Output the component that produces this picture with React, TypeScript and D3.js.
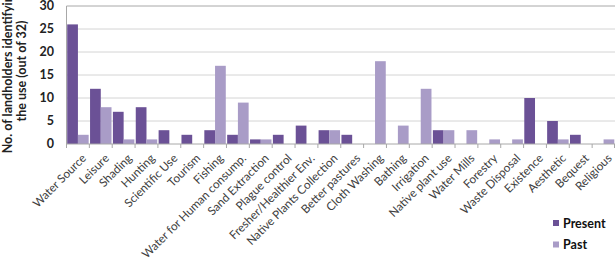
import React from "react";
import * as d3 from "d3";

const categories = [
  "Water Source", "Leisure", "Shading", "Hunting", "Scientific Use", "Tourism", "Fishing",
  "Water for Human consump.", "Sand Extraction", "Plague control", "Fresher/Healthier Env.",
  "Native Plants Collection", "Better pastures", "Cloth Washing", "Bathing", "Irrigation",
  "Native plant use", "Water Mills", "Forestry", "Waste Disposal", "Existence", "Aesthetic",
  "Bequest", "Religious",
];
const present = [26, 12, 7, 8, 3, 2, 3, 2, 1, 2, 4, 3, 2, 0, 0, 0, 3, 0, 0, 0, 10, 5, 2, 0];
const past = [2, 8, 1, 1, 0, 0, 17, 9, 1, 0, 0, 3, 0, 18, 4, 12, 3, 3, 1, 1, 0, 1, 0, 1];
const yTicks = [0, 5, 10, 15, 20, 25, 30];
const seriesNames = ["Present", "Past"];
const colors = ["#6b5196", "#a99cc7"];

const W = 616, H = 263;
const left = 66.5, right = 615, top = 6, bottom = 144;

export default function App() {
  const x = d3.scaleBand<string>().domain(categories).range([left, right]).paddingInner(0).paddingOuter(0);
  const inner = d3.scaleBand<string>().domain(seriesNames).range([0, x.bandwidth()]).paddingInner(0).paddingOuter(0.065);
  const y = d3.scaleLinear().domain([0, 30]).range([bottom, top]);
  const font = "Lato, 'Open Sans', sans-serif";
  const series = [present, past];
  return (
    <svg width={W} height={H} style={{ position: "absolute", left: 0, top: 0, background: "#fff" }} fontFamily={font}>
      {yTicks.map((t) => (
        <g key={t}>
          {t > 0 && (
            <line x1={left} x2={right} y1={y(t)} y2={y(t)} stroke={t === 30 ? "#a8a8a8" : "#d4d4d4"} strokeWidth={1} />
          )}
          <text x={54} y={y(t)} dy="0.35em" textAnchor="end" fontSize={12.5} fontWeight="bold" fill="#222">{t}</text>
        </g>
      ))}
      {series.map((vals, si) =>
        vals.map((v, i) =>
          v > 0 ? (
            <rect
              key={`${si}-${i}`}
              x={(x(categories[i]) as number) + (inner(seriesNames[si]) as number)}
              y={y(v)}
              width={inner.bandwidth()}
              height={bottom - y(v)}
              fill={colors[si]}
            />
          ) : null
        )
      )}
      <line x1={left} x2={right} y1={bottom} y2={bottom} stroke="#a8a8a8" />
      <line x1={left} x2={left} y1={top} y2={bottom} stroke="#a8a8a8" />
      {categories.map((c, i) => (
        <line key={"t" + i} x1={x(c) as number} x2={x(c) as number} y1={bottom} y2={bottom + 4} stroke="#a8a8a8" />
      ))}
      <line x1={right - 0.5} x2={right - 0.5} y1={bottom} y2={bottom + 4} stroke="#a8a8a8" />
      {categories.map((c, i) => {
        const cx = (x(c) as number) + x.bandwidth() / 2 + 4;
        const cy = bottom + 10;
        return (
          <text key={"l" + i} x={cx} y={cy} transform={`rotate(-45 ${cx} ${cy})`} textAnchor="end" dy="0.6em" fontSize={11.7} fill="#404040">
            {c}
          </text>
        );
      })}
      <g transform={`translate(12, ${(top + bottom) / 2 - 4}) rotate(-90)`}>
        <text x={0} y={0} textAnchor="middle" fontSize={12.5} fontWeight="bold" fill="#222">No. of landholders identifying</text>
        <text x={0} y={14} textAnchor="middle" fontSize={12.5} fontWeight="bold" fill="#222">the use (out of 32)</text>
      </g>
      {seriesNames.map((s, i) => (
        <g key={s} transform={`translate(553, ${220 + i * 21.5})`}>
          <rect x={0} y={0} width={6} height={6} fill={colors[i]} />
          <text x={10} y={3} dy="0.38em" fontSize={12.5} fontWeight="bold" fill="#111">{s}</text>
        </g>
      ))}
    </svg>
  );
}
